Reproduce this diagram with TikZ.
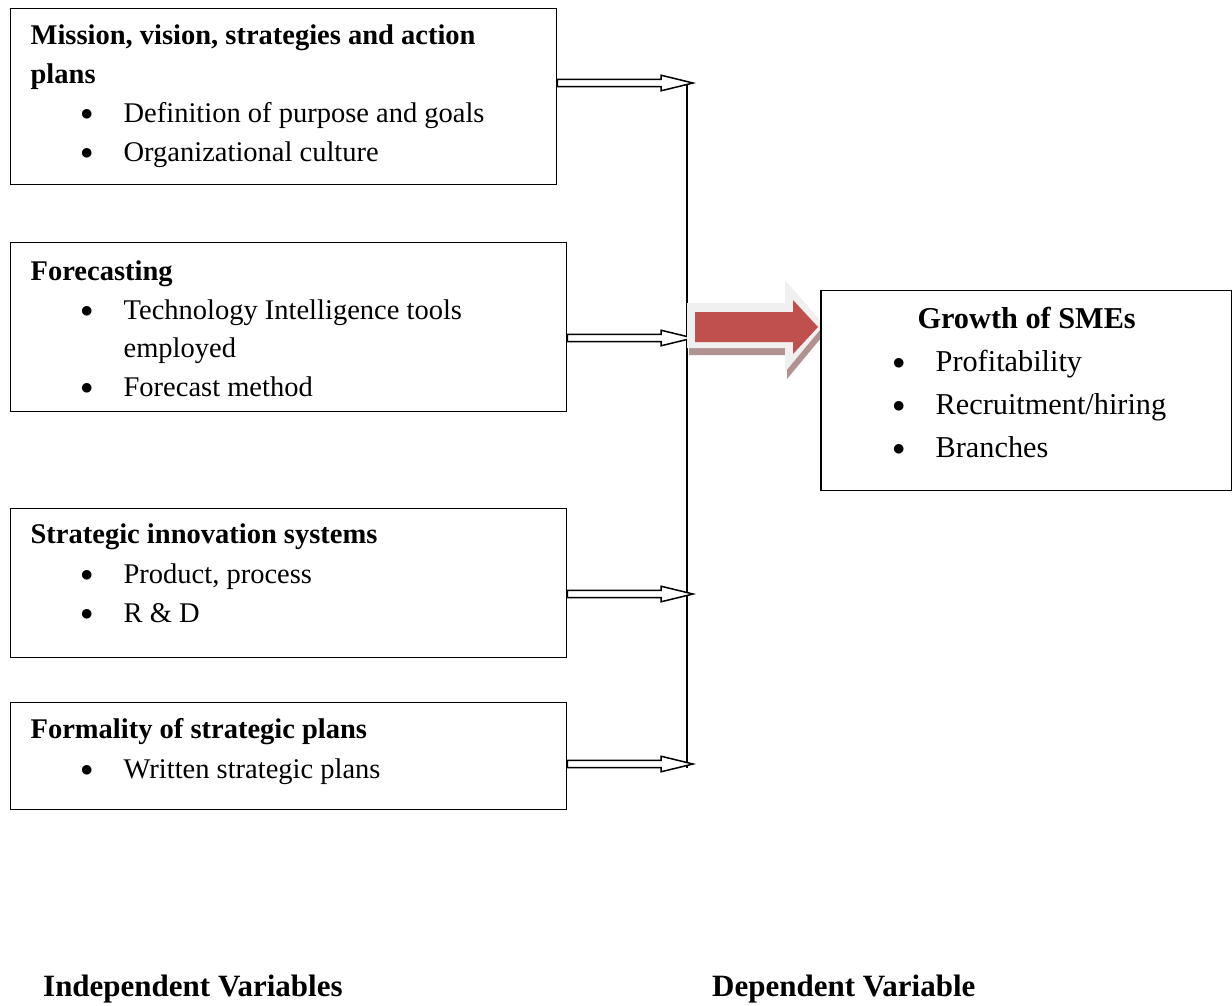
\documentclass[tikz,border=0pt]{standalone}
\usepackage{fontspec}
\setmainfont{Liberation Serif}
\usetikzlibrary{calc}
\definecolor{arrowred}{HTML}{C0504D}
\definecolor{arrowshade}{HTML}{B29191}
\definecolor{arrowglow}{HTML}{F0F0F0}
\tikzset{
  frame/.style ={draw=black, line width=1.3pt, inner sep=0pt, anchor=north west},
  hollow/.style={draw=black, line width=1.5pt, fill=white, line join=miter},
  trunk/.style ={draw=black, line width=1.6pt},
  varname/.style={inner sep=0pt, anchor=base west, font=\fontsize{31}{36}\selectfont\bfseries},
}
% box body: width, height, first baseline, font size, skip, lines
\newcommand\boxtext[6]{\begin{minipage}[t][#2pt][t]{#1pt}\fontsize{#4}{#5}\selectfont
  \parindent=0pt\rule{0pt}{#3pt}#6\end{minipage}}
\newcommand\vhead[1]{\hspace*{20pt}\textbf{#1}\par}
\newcommand\vitem[1]{\noindent\hspace*{70pt}\makebox[43pt][l]{\raisebox{2pt}{$\bullet$}}#1\par}
\newcommand\vcont[1]{\noindent\hspace*{113pt}#1\par}
\newcommand\ritem[1]{\noindent\hspace*{71pt}\makebox[43pt][l]{\raisebox{2pt}{$\bullet$}}#1\par}
\newcommand\hollowarrow[2]{%
  \draw[hollow] let \p1=(#1), \p2=(#2) in
    (\x1,\y2+3.6pt) -- (\x2-32pt,\y2+3.6pt) -- (\x2-32pt,\y2+7.8pt) -- (\x2,\y2)
    -- (\x2-32pt,\y2-7.8pt) -- (\x2-32pt,\y2-3.6pt) -- (\x1,\y2-3.6pt) -- cycle;}

\begin{document}
\begin{tikzpicture}[x=1pt, y=-1pt]
  \useasboundingbox (0,0) rectangle (1232,1005);
  % independent variables
  \node[frame] (mission) at (10,8) {\boxtext{546}{176}{36}{28.5}{39}{%
    \vhead{Mission, vision, strategies and action}
    \vhead{plans}
    \vitem{Definition of purpose and goals}
    \vitem{Organizational culture}}};
  \node[frame] (forecast) at (10,242) {\boxtext{556}{169}{38}{28.5}{38.5}{%
    \vhead{Forecasting}
    \vitem{Technology Intelligence tools}
    \vcont{employed}
    \vitem{Forecast method}}};
  \node[frame] (innov) at (10,508) {\boxtext{556}{149}{35}{28.5}{39.5}{%
    \vhead{Strategic innovation systems}
    \vitem{Product, process}
    \vitem{R \& D}}};
  \node[frame] (formal) at (10,702) {\boxtext{556}{107}{36}{28.5}{40}{%
    \vhead{Formality of strategic plans}
    \vitem{Written strategic plans}}};
  % dependent variable
  \node[frame] (growth) at (821,290) {\boxtext{410}{200}{38}{30.3}{43}{%
    \makebox[410pt]{\textbf{Growth of SMEs}}\par
    \ritem{Profitability}
    \ritem{Recruitment/hiring}
    \ritem{Branches}}};
  % joining line
  \coordinate (t1) at (693,83);
  \coordinate (t2) at (693,338);
  \coordinate (t3) at (693,594);
  \coordinate (t4) at (693,764);
  \coordinate (jtop) at (687,83);
  \coordinate (jbot) at (687,768);
  \draw[trunk] (jtop) -- (jbot);
  \hollowarrow{mission.east |- t1}{t1}
  \hollowarrow{forecast.east |- t2}{t2}
  \hollowarrow{innov.east |- t3}{t3}
  \hollowarrow{formal.east |- t4}{t4}
  % big arrow
  \begin{scope}
    \clip (687,270) rectangle (growth.west |- 0,395);
    \fill[arrowshade] (689,310) -- (787,310) -- (787,287) -- (826,332) -- (787,379) -- (787,355) -- (689,355) -- cycle;
    \fill[arrowglow] (687,303) -- (785,303) -- (785,280) -- (824,325) -- (785,372) -- (785,348) -- (687,348) -- cycle;
    \fill[arrowred] (695,312) -- (793,312) -- (793,300) -- (818,327) -- (793,354) -- (793,342) -- (695,342) -- cycle;
  \end{scope}
  \draw[line width=1.3pt] (growth.north west) -- (growth.south west);
  % captions
  \node[varname] (indep) at (43,996) {Independent Variables};
  \node[varname] (dep) at (712,996) {Dependent Variable};
\end{tikzpicture}
\end{document}
